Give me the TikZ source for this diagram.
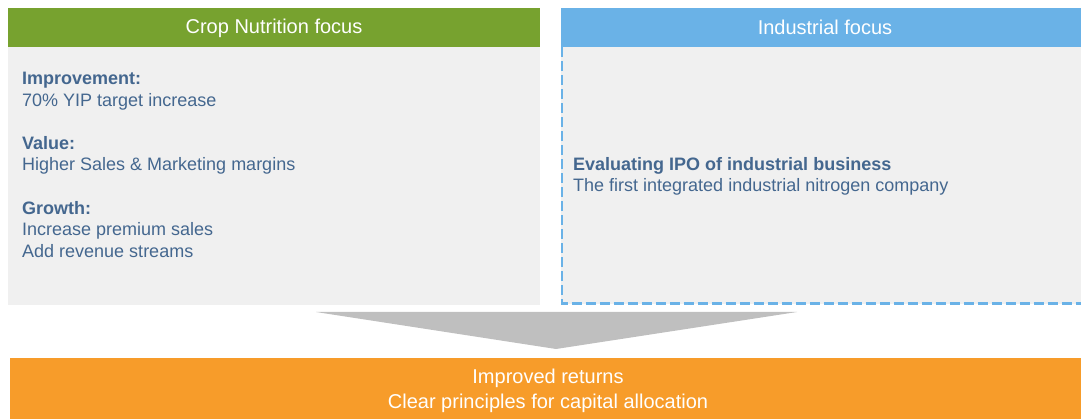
\documentclass[tikz,border=0pt]{standalone}
\usepackage{fontspec}
\setmainfont{Liberation Sans}
\definecolor{cgreen}{HTML}{77A22F}
\definecolor{cblue}{HTML}{6AB2E7}
\definecolor{cgray}{HTML}{F0F0F0}
\definecolor{carrow}{HTML}{BFBFBF}
\definecolor{corange}{HTML}{F79C2A}
\definecolor{ctext}{HTML}{44678F}
\begin{document}
\begin{tikzpicture}[x=1pt,y=-1pt,
  header/.style={text=white,font=\fontsize{20}{24}\selectfont},
  body/.style={text=ctext,font=\fontsize{18}{21.5}\selectfont,align=left,anchor=north west,inner sep=0pt},
  bottomtext/.style={text=white,font=\fontsize{20}{25}\selectfont,align=center}]
\useasboundingbox (0,0) rectangle (1081,419);
% left panel
\fill[cgray] (8,47) rectangle (540,305);
\fill[cgreen] (8,8) rectangle (540,47);
\node[header] (lhead) at (274,28.5) {Crop Nutrition focus};
% right panel
\fill[cgray] (561,47) rectangle (1081,304);
\draw[cblue,line width=2.5pt,dash pattern=on 10pt off 4pt] (562,47) -- (562,303.5) -- (1081,303.5);
\fill[cblue] (561,8) rectangle (1081,47);
\node[header] (rhead) at (825,27.5) {Industrial focus};
% left text
\node[body] (imp) at (22,72) {\textbf{Improvement:}\\70\% YIP target increase};
\node[body] (val) at (22,136) {\textbf{Value:}\\Higher Sales \& Marketing margins};
\node[body] (gro) at (22,201) {\textbf{Growth:}\\Increase premium sales\\Add revenue streams};
% right text
\node[body] (ipo) at (573,157) {\textbf{Evaluating IPO of industrial business}\\The first integrated industrial nitrogen company};
% arrow
\fill[carrow] (316,312) -- (797,312) -- (556,349) -- cycle;
% bottom
\fill[corange] (10,358) rectangle (1081,419);
\node[bottomtext] (ret) at (548,390.5) {Improved returns\\Clear principles for capital allocation};
\end{tikzpicture}
\end{document}
